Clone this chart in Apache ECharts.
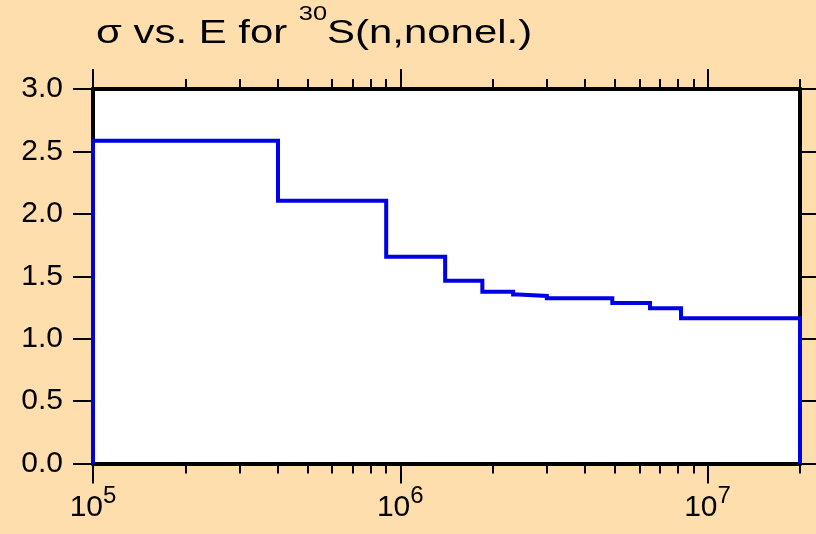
<!DOCTYPE html>
<html><head><meta charset="utf-8">
<script src="https://cdn.jsdelivr.net/npm/echarts@6/dist/echarts.min.js"></script>
<style>html,body{margin:0;padding:0;background:#ffdead}#c{width:816px;height:534px}</style>
</head><body><div id="c"></div>
<script>
// Bin lower edges (eV) and cross sections (b)
const edges = [1e5, 4.0e5, 9.0e5, 1.40e6, 1.85e6, 2.33e6, 2.42e6, 3.0e6, 4.9e6, 6.5e6, 8.2e6];
const sigma = [2.586, 2.105, 1.657, 1.464, 1.376, 1.354, 1.342, 1.323, 1.286, 1.243, 1.163];
const eMin = 1e5;
const eMax = 2e7;
const majorTicks = [1e5, 1e6, 1e7];
const minorTicks = [2e5, 3e5, 4e5, 5e5, 6e5, 7e5, 8e5, 9e5, 2e6, 3e6, 4e6, 5e6, 6e6, 7e6, 8e6, 9e6, 2e7];
const yMin = 0, yMax = 3.0, yStep = 0.5;
const titleParts = ['σ vs. E for ', '30', 'S(n,nonel.)'];

const FONT = 'Liberation Sans';
const stepData = [[edges[0], 0]].concat(edges.map((e, i) => [e, sigma[i]])).concat([[eMax, 0]]);

function xAxis(pos, ticks, len, withLabels) {
  return {
    type: 'log', logBase: 10, min: eMin, max: eMax, position: pos, gridIndex: 0,
    axisLine: { show: true, onZero: false, lineStyle: { color: '#000', width: 4 } },
    axisTick: { show: true, inside: false, length: len, customValues: ticks, lineStyle: { color: '#000', width: 2 } },
    axisLabel: withLabels ? {
      show: true, customValues: majorTicks, margin: 21, color: '#000',
      formatter: v => '{b|10}{s|' + Math.round(Math.log10(v)) + '}',
      rich: {
        b: { fontFamily: FONT, fontSize: 30, color: '#000', verticalAlign: 'bottom' },
        s: { fontFamily: FONT, fontSize: 24, color: '#000', verticalAlign: 'bottom', padding: [0, 0, 14, 0] }
      }
    } : { show: false },
    splitLine: { show: false }, minorTick: { show: false }, minorSplitLine: { show: false }
  };
}
function yAxis(pos, withLabels) {
  return {
    type: 'value', min: yMin, max: yMax, interval: yStep, position: pos,
    axisLine: { show: true, onZero: false, lineStyle: { color: '#000', width: 4 } },
    axisTick: { show: true, inside: false, length: 20, lineStyle: { color: '#000', width: 2 } },
    axisLabel: withLabels ? { show: true, margin: 30, color: '#000', fontFamily: FONT, fontSize: 30,
      formatter: v => v.toFixed(1) } : { show: false },
    splitLine: { show: false }
  };
}

const chart = echarts.init(document.getElementById('c'), null, { renderer: 'canvas' });
chart.setOption({
  animation: false,
  backgroundColor: '#ffdead',
  graphic: [{
    type: 'text', x: 96, y: 4, scaleX: 1.27, scaleY: 1, z: 10,
    style: {
      text: '{a|' + titleParts[0] + '}{s|' + titleParts[1] + '}{a|' + titleParts[2] + '}',
      x: 0, y: 0, verticalAlign: 'top', align: 'left',
      rich: {
        a: { fontFamily: FONT, fontSize: 33, fill: '#000', verticalAlign: 'bottom' },
        s: { fontFamily: FONT, fontSize: 20, fill: '#000', verticalAlign: 'bottom', padding: [0, 0, 26, 0] }
      }
    }
  }],
  grid: { left: 93, right: 16, top: 89, bottom: 70.5, show: true, backgroundColor: '#fff', borderWidth: 0, containLabel: false },
  xAxis: [
    xAxis('bottom', majorTicks, 20, true),
    xAxis('bottom', minorTicks, 10, false),
    xAxis('top', majorTicks, 20, false),
    xAxis('top', minorTicks, 10, false)
  ],
  yAxis: [yAxis('left', true), yAxis('right', false)],
  series: [{
    type: 'line', step: 'end', xAxisIndex: 0, yAxisIndex: 0,
    data: stepData, showSymbol: false, clip: false, z: 5,
    lineStyle: { color: '#0000e6', width: 4, join: 'miter' }
  }]
});
</script></body></html>
